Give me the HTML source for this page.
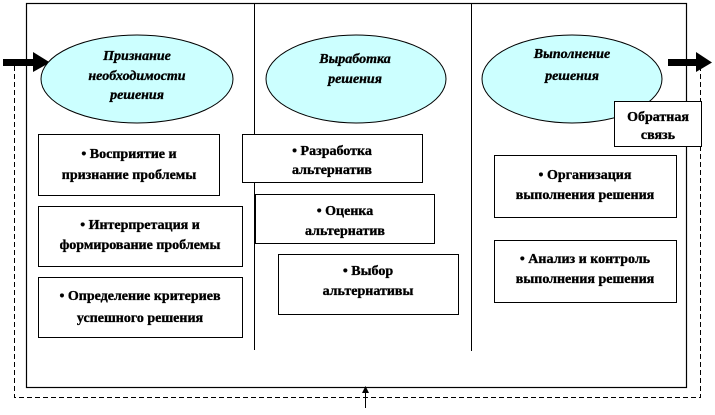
<!DOCTYPE html>
<html><head><meta charset="utf-8"><style>
body{margin:0;background:#fff;}
svg text{font-family:"Liberation Serif",serif;font-weight:bold;font-size:14px;text-anchor:middle;fill:#000;stroke:#000;stroke-width:0.35}
.it{font-style:italic}
</style></head><body>
<svg width="715" height="410" xmlns="http://www.w3.org/2000/svg">
<rect x="26.5" y="3.5" width="660" height="384" fill="#fff" stroke="#000" stroke-width="1.2"/>
<line x1="254.5" y1="3" x2="254.5" y2="350" stroke="#000"/>
<line x1="471.5" y1="3" x2="471.5" y2="351" stroke="#000"/>
<polyline points="14.5,66 14.5,397.5 700.5,397.5 700.5,66" fill="none" stroke="#000" stroke-dasharray="5,3"/>
<line x1="365.5" y1="408" x2="365.5" y2="392" stroke="#000"/>
<polygon points="362,393 369,393 365.5,386" fill="#000"/>
<rect x="3" y="59" width="32" height="7" fill="#000"/>
<polygon points="33,52 50,62.5 33,72" fill="#000"/>
<rect x="668" y="59" width="30" height="7" fill="#000"/>
<polygon points="696,52 712,62.5 696,72" fill="#000"/>
<ellipse cx="137" cy="79" rx="96" ry="44" fill="#ccffff" stroke="#000"/>
<ellipse cx="356" cy="79" rx="90" ry="44" fill="#ccffff" stroke="#000"/>
<ellipse cx="572" cy="79" rx="90" ry="44" fill="#ccffff" stroke="#000"/>
<text class="it" x="137" y="60">Признание</text>
<text class="it" x="137" y="80">необходимости</text>
<text class="it" x="137" y="99">решения</text>
<text class="it" x="355" y="63">Выработка</text>
<text class="it" x="355" y="83">решения</text>
<text class="it" x="572" y="58">Выполнение</text>
<text class="it" x="572" y="80">решения</text>
<g fill="#fff" stroke="#000">
<rect x="38.5" y="134.5" width="181" height="61"/>
<rect x="38.5" y="206.5" width="204" height="60"/>
<rect x="38.5" y="277.5" width="204" height="60"/>
<rect x="242.5" y="134.5" width="180" height="48"/>
<rect x="255.5" y="194.5" width="179" height="49"/>
<rect x="278.5" y="254.5" width="180" height="60"/>
<rect x="494.5" y="155.5" width="182" height="62"/>
<rect x="494.5" y="240.5" width="182" height="62"/>
<rect x="614.5" y="101.5" width="87" height="45"/>
</g>
<text x="129" y="158">• Восприятие и</text>
<text x="129" y="179">признание проблемы</text>
<text x="140" y="229">• Интерпретация и</text>
<text x="140" y="249">формирование проблемы</text>
<text x="140" y="300">• Определение критериев</text>
<text x="140" y="322">успешного решения</text>
<text x="332" y="155">• Разработка</text>
<text x="332" y="174">альтернатив</text>
<text x="345" y="215">• Оценка</text>
<text x="345" y="235">альтернатив</text>
<text x="368" y="275">• Выбор</text>
<text x="368" y="295">альтернативы</text>
<text x="585" y="179">• Организация</text>
<text x="585" y="199">выполнения решения</text>
<text x="585" y="263">• Анализ и контроль</text>
<text x="585" y="283">выполнения решения</text>
<text x="658" y="121">Обратная</text>
<text x="658" y="139">связь</text>
</svg>
</body></html>
